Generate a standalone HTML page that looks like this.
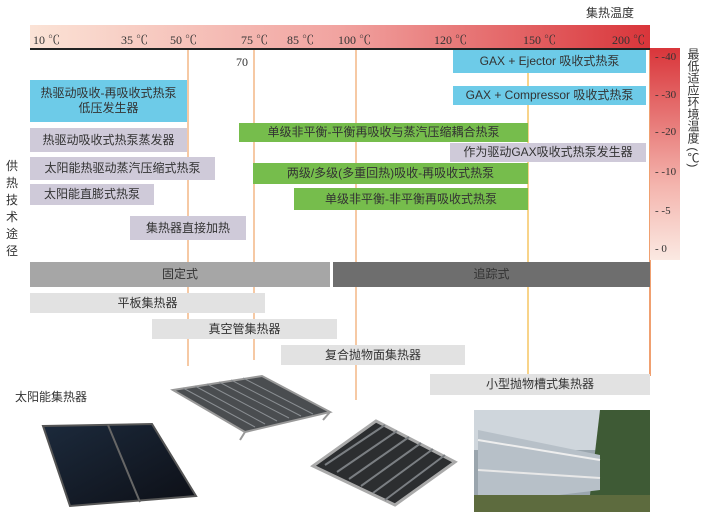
<!DOCTYPE html>
<html><head><meta charset="utf-8"><style>
body{margin:0;background:#fff;}
#c{position:relative;width:710px;height:514px;overflow:hidden;background:#fff;font-family:"Liberation Serif","Noto Serif CJK SC","Noto Sans CJK SC",serif;color:#333;}
.a{position:absolute;}
.box{position:absolute;display:flex;align-items:center;justify-content:center;text-align:center;font-size:12px;line-height:15px;color:#333;font-family:"Liberation Sans","Noto Sans CJK SC",sans-serif;}
.b{background:#6dcbe8;}
.g{background:#cfcad9;}
.gr{background:#76bd4c;}
.l{background:#e2e2e2;}
.vl{position:absolute;width:2px;background:#f6c9a4;}
.t{position:absolute;font-size:12px;color:#333;white-space:nowrap;}
.rt{position:absolute;left:655px;font-size:11px;color:#333;}
</style></head><body><div id="c">
<!-- vertical lines -->
<div class="vl" style="left:187px;top:48px;height:318px"></div>
<div class="vl" style="left:253px;top:48px;height:312px"></div>
<div class="vl" style="left:355px;top:48px;height:352px"></div>
<div class="vl" style="left:527px;top:48px;height:326px;background:#f8d48a"></div>
<div class="vl" style="left:649px;top:48px;height:328px;background:#f0a070"></div>
<!-- top bar -->
<div class="a" style="left:30px;top:25px;width:620px;height:23px;background:linear-gradient(90deg,#fbe3d6,#f1a3a0 50%,#d9353a)"></div>
<div class="a" style="left:30px;top:48px;width:622px;height:2px;background:#222"></div>
<div class="t" style="left:586px;top:4px;font-family:'Liberation Sans','Noto Sans CJK SC',sans-serif;">集热温度</div>
<div class="t" style="left:33px;top:31px">10 ℃</div>
<div class="t" style="left:121px;top:31px">35 ℃</div>
<div class="t" style="left:170px;top:31px">50 ℃</div>
<div class="t" style="left:241px;top:31px">75 ℃</div>
<div class="t" style="left:287px;top:31px">85 ℃</div>
<div class="t" style="left:338px;top:31px">100 ℃</div>
<div class="t" style="left:434px;top:31px">120 ℃</div>
<div class="t" style="left:523px;top:31px">150 ℃</div>
<div class="t" style="left:612px;top:31px">200 ℃</div>
<div class="t" style="left:236px;top:55px">70</div>
<!-- right bar -->
<div class="a" style="left:650px;top:48px;width:30px;height:212px;background:linear-gradient(180deg,#d9353a,#f4b5ae 65%,#fbe9e2)"></div>
<div class="rt" style="top:51px">- -40</div>
<div class="rt" style="top:89px">- -30</div>
<div class="rt" style="top:126px">- -20</div>
<div class="rt" style="top:166px">- -10</div>
<div class="rt" style="top:205px">- -5</div>
<div class="rt" style="top:243px">- 0</div>
<div class="a" style="left:684px;top:48px;width:16px;font-size:12px;line-height:14px;font-family:'Liberation Sans','Noto Sans CJK SC',sans-serif;writing-mode:vertical-rl;">最低适应环境温度 (℃)</div>
<div class="a" style="left:6px;top:158px;width:14px;font-size:12px;line-height:17px;font-family:'Liberation Sans','Noto Sans CJK SC',sans-serif;">供<br>热<br>技<br>术<br>途<br>径</div>
<!-- boxes -->
<div class="box b" style="left:30px;top:80px;width:157px;height:42px">热驱动吸收-再吸收式热泵<br>低压发生器</div>
<div class="box g" style="left:30px;top:128px;width:157px;height:24px">热驱动吸收式热泵蒸发器</div>
<div class="box g" style="left:30px;top:157px;width:185px;height:23px">太阳能热驱动蒸汽压缩式热泵</div>
<div class="box g" style="left:30px;top:184px;width:124px;height:21px">太阳能直膨式热泵</div>
<div class="box g" style="left:130px;top:216px;width:116px;height:24px">集热器直接加热</div>
<div class="box gr" style="left:239px;top:123px;width:289px;height:19px">单级非平衡-平衡再吸收与蒸汽压缩耦合热泵</div>
<div class="box gr" style="left:253px;top:163px;width:275px;height:21px">两级/多级(多重回热)吸收-再吸收式热泵</div>
<div class="box gr" style="left:294px;top:188px;width:234px;height:22px">单级非平衡-非平衡再吸收式热泵</div>
<div class="box b" style="left:453px;top:50px;width:193px;height:23px">GAX + Ejector 吸收式热泵</div>
<div class="box b" style="left:453px;top:86px;width:193px;height:19px">GAX + Compressor 吸收式热泵</div>
<div class="box g" style="left:450px;top:143px;width:196px;height:19px">作为驱动GAX吸收式热泵发生器</div>
<!-- collectors -->
<div class="box" style="left:30px;top:262px;width:300px;height:25px;background:#a6a6a6">固定式</div>
<div class="box" style="left:333px;top:262px;width:317px;height:25px;background:#6e6e6e">追踪式</div>
<div class="box l" style="left:30px;top:293px;width:235px;height:20px">平板集热器</div>
<div class="box l" style="left:152px;top:319px;width:185px;height:20px">真空管集热器</div>
<div class="box l" style="left:281px;top:345px;width:184px;height:20px">复合抛物面集热器</div>
<div class="box l" style="left:430px;top:374px;width:220px;height:21px">小型抛物槽式集热器</div>
<div class="t" style="left:15px;top:388px;font-family:'Liberation Sans','Noto Sans CJK SC',sans-serif;">太阳能集热器</div>
<svg class="a" style="left:0;top:0" width="710" height="514">
<defs>
<linearGradient id="p" x1="0" y1="0" x2="1" y2="1"><stop offset="0" stop-color="#1c2a3c"/><stop offset="1" stop-color="#0d0f16"/></linearGradient>
<linearGradient id="s" x1="0" y1="0" x2="0" y2="1"><stop offset="0" stop-color="#b9bec3"/><stop offset="1" stop-color="#6d7278"/></linearGradient>
</defs>
<!-- flat panel -->
<polygon points="43,426 152,424 196,496 70,506" fill="url(#p)" stroke="#555" stroke-width="2"/>
<line x1="108" y1="425" x2="140" y2="502" stroke="#666" stroke-width="2"/>
<!-- evacuated tubes -->
<polygon points="173,390 262,376 330,412 245,432" fill="#4a4d50" stroke="#999" stroke-width="2"/>
<g stroke="#8a8e92" stroke-width="1">
<line x1="183" y1="388" x2="255" y2="427"/><line x1="195" y1="386" x2="265" y2="424"/><line x1="207" y1="384" x2="277" y2="421"/><line x1="219" y1="382" x2="289" y2="418"/><line x1="231" y1="380" x2="301" y2="416"/><line x1="243" y1="378" x2="313" y2="414"/>
</g>
<line x1="330" y1="412" x2="323" y2="420" stroke="#999" stroke-width="2"/>
<line x1="245" y1="432" x2="240" y2="440" stroke="#999" stroke-width="2"/>
<!-- CPC -->
<polygon points="313,466 376,421 455,462 395,505" fill="#2c2e30" stroke="#aaa" stroke-width="3"/>
<g stroke="#7a7e82" stroke-width="2">
<line x1="325" y1="465" x2="385" y2="425"/><line x1="337" y1="472" x2="397" y2="431"/><line x1="349" y1="479" x2="409" y2="437"/><line x1="361" y1="486" x2="421" y2="443"/><line x1="373" y1="493" x2="433" y2="449"/><line x1="385" y1="500" x2="445" y2="455"/>
</g>
<!-- parabolic trough photo -->
<rect x="474" y="410" width="176" height="102" fill="#9aa5ad"/>
<rect x="474" y="410" width="176" height="40" fill="#cfd6dc"/>
<polygon points="600,410 650,410 650,495 590,495" fill="#3e5a35"/>
<polygon points="478,430 600,455 600,490 478,505" fill="#b7c0c8"/>
<line x1="478" y1="440" x2="600" y2="460" stroke="#eee" stroke-width="2"/>
<line x1="478" y1="470" x2="600" y2="478" stroke="#e8e8e8" stroke-width="2"/>
<rect x="474" y="495" width="176" height="17" fill="#5d6b3e"/>
</svg>
</div></body></html>
